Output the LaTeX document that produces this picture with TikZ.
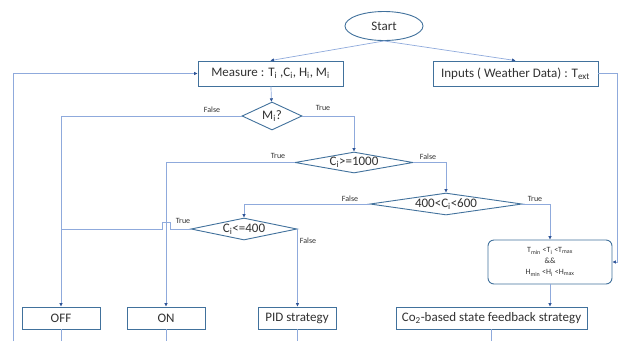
\documentclass[tikz,border=0pt]{standalone}
\usepackage{fontspec}
\setmainfont{Carlito}
\usepackage{tikz}
\usetikzlibrary{shapes.geometric, arrows.meta, positioning, calc}
\definecolor{boxblue}{RGB}{65, 113, 156}
\definecolor{flowline}{RGB}{143, 170, 220}
\definecolor{tipblue}{RGB}{47, 85, 151}
\definecolor{textgray}{RGB}{50, 50, 50}

\begin{document}
\begin{tikzpicture}[x=1pt, y=-1pt,
    process/.style={draw=boxblue, line width=0.9pt, fill=white, inner sep=0pt, minimum height=22pt, text=textgray, font=\fontsize{13}{15}\selectfont},
    decision/.style={draw=boxblue, line width=0.9pt, fill=white, diamond, inner sep=-2pt, text=textgray, font=\fontsize{13}{15}\selectfont},
    flow/.style={draw=flowline, line width=0.7pt},
    arr/.style={flow, -{Triangle[length=3.5pt, width=3pt, color=tipblue]}},
    tag/.style={inner sep=1pt, text=textgray, font=\fontsize{8}{9}\selectfont}]
        \useasboundingbox (0,0) rectangle (624,341);

        % Start and the two inputs
        \node[draw=boxblue, line width=0.9pt, ellipse, minimum width=78pt, minimum height=29pt, text=textgray, font=\fontsize{13}{15}\selectfont] (start) at (384,26) {Start};
        \node[process, minimum width=145pt, minimum height=25pt] (measure) at (270.5,73.5) {Measure : T\textsubscript{i} ,C\textsubscript{i}, H\textsubscript{i}, M\textsubscript{i}};
        \node[process, minimum width=165pt, minimum height=25pt] (inputs) at (515.5,73.5) {Inputs ( Weather Data) : T\textsubscript{ext}};

        % Decisions
        \node[decision, minimum width=60pt, minimum height=28pt, aspect=2.1] (mi) at (272,116) {M\textsubscript{i}?};
        \node[decision, minimum width=118pt, minimum height=21pt, aspect=5.6] (cge) at (354,162.5) {C\textsubscript{i}>=1000};
        \node[decision, minimum width=152pt, minimum height=22pt, aspect=6.9] (cmid) at (446,204) {400<C\textsubscript{i}<600};
        \node[decision, minimum width=106pt, minimum height=22pt, aspect=4.8] (cle) at (244,229) {C\textsubscript{i}<=400};

        % Comfort condition
        \node[draw=boxblue, line width=0.9pt, rounded corners=6pt, minimum width=124pt, minimum height=44pt, align=center, text=textgray, font=\fontsize{8}{11}\selectfont] (comfort) at (550,262) {T\textsubscript{min} <T\textsubscript{i} <T\textsubscript{max}\\ \&\&\\ H\textsubscript{min} <H\textsubscript{i} <H\textsubscript{max}};

        % Strategies
        \node[process, minimum width=78pt] (off) at (61,318) {OFF};
        \node[process, minimum width=78pt] (on) at (166,318) {ON};
        \node[process, minimum width=78pt] (pid) at (297,318) {PID strategy};
        \node[process, minimum width=191pt] (cofb) at (491.5,318) {Co\textsubscript{2}-based state feedback strategy};

        \coordinate (bottom) at (0,341);
        \coordinate (loopfoot) at (13,341);

        % Connections
        \draw[arr] (start.south) -- (measure.north);
        \draw[arr] (start.south) -- (inputs.north);
        \draw[arr] (measure) -- (mi);
        \draw[arr] (mi.west) -| (off.north);
        \draw[arr] (mi.east) -| (cge.north);
        \draw[arr] (cge.west) -| (on.north);
        \draw[arr] (cge.east) -| (cmid.north);
        \draw[arr] (cmid.west) -| (cle.north);
        \draw[arr] (cmid.east) -| (comfort.north);
        \draw[arr] (cle.east) -- (cle.east |- pid.north);
        \draw[flow] (cle.west) -- ($(on.north |- cle.west)+(4,0)$) -- ++(0,-7) -- ++(-8,0) -- ++(0,7) -- (off.north |- cle.west);
        \draw[arr] (comfort.south) -- (comfort.south |- cofb.north);
        \draw[arr] (inputs.east) -- ++(19,0) |- (comfort.east);

        % Feedback loop
        \draw[flow] (off.south) -- (off.south |- bottom);
        \draw[flow] (on.south) -- (on.south |- bottom);
        \draw[flow] (pid.south) -- (pid.south |- bottom);
        \draw[flow] (cofb.south) -- (cofb.south |- bottom);
        \draw[arr] (loopfoot) |- (measure.west);

        % Branch labels
        \node[tag] (fmi) at (212,110) {False};
        \node[tag] (tmi) at (323,108) {True};
        \node[tag] (tcge) at (278,156) {True};
        \node[tag] (fcge) at (428,157) {False};
        \node[tag] (fmid) at (350,199) {False};
        \node[tag] (tmid) at (535,199) {True};
        \node[tag] (tcle) at (183,221) {True};
        \node[tag] (fcle) at (308,241) {False};
    \end{tikzpicture}
\end{document}
